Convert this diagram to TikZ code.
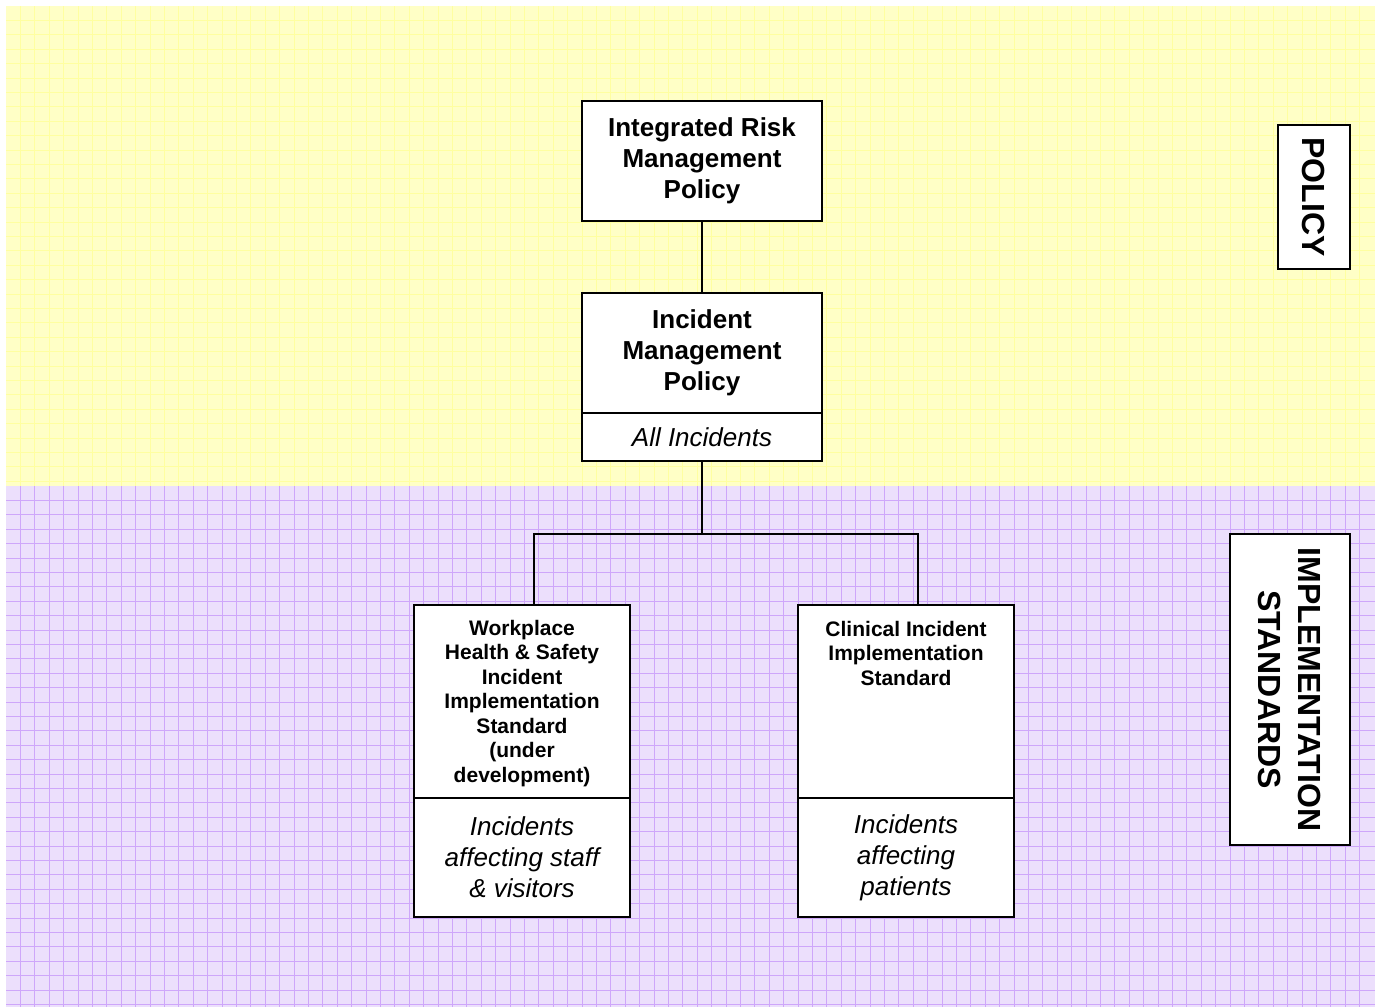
\documentclass[tikz,border=0pt]{standalone}
\usepackage{fontspec}
\setmainfont{Liberation Sans}
\definecolor{ybg}{RGB}{255,255,198}
\definecolor{ygrid}{RGB}{255,255,160}
\definecolor{pbg}{RGB}{236,223,252}
\definecolor{pgrid}{RGB}{206,166,250}
\tikzset{
  boxpart/.style={draw=black, line width=2pt, fill=white, inner sep=0pt, align=center},
  bigbold/.style={font=\fontsize{26}{31}\selectfont\bfseries},
  bigital/.style={font=\fontsize{26}{31}\selectfont\itshape},
  smallbold/.style={font=\fontsize{21}{24.5}\selectfont\bfseries},
  sidebold/.style={font=\fontsize{32}{40}\selectfont\bfseries},
  conn/.style={draw=black, line width=2pt}
}
\begin{document}
\begin{tikzpicture}[x=1pt,y=-1pt]
\useasboundingbox (0,0) rectangle (1382,1007);
\fill[white] (0,0) rectangle (1382,1007);
% backgrounds
\fill[ybg] (6,6) rectangle (1375,486);
\fill[pbg] (6,486) rectangle (1375,1007);
\begin{scope}[line width=0.8pt]
\foreach \i in {1,...,94} {
  \draw[ygrid] (6+\i*14.4,6) -- (6+\i*14.4,486);
  \draw[pgrid] (6+\i*14.4,486) -- (6+\i*14.4,1007);
}
\foreach \j in {1,...,33} {
  \draw[ygrid] (6,6+\j*14.4) -- (1375,6+\j*14.4);
}
\foreach \j in {1,...,36} {
  \draw[pgrid] (6,486+\j*14.4) -- (1375,486+\j*14.4);
}
\end{scope}
% boxes
\node[boxpart, bigbold, minimum width=240pt, minimum height=120pt] (irm) at (702,161)
  {Integrated Risk\\Management\\Policy};
\node[boxpart, bigbold, minimum width=240pt, minimum height=120pt] (imp) at (702,353)
  {Incident\\Management\\Policy};
\node[boxpart, bigital, minimum width=240pt, minimum height=48pt] (all) at (702,437)
  {All Incidents};
\node[boxpart, minimum width=216pt, minimum height=193pt] (whs) at (522,701.5) {};
\node[smallbold, align=center, inner sep=0pt] (whstext) at (522,703.5)
  {Workplace\\Health \& Safety\\Incident\\Implementation\\Standard\\(under\\development)};
\node[boxpart, bigital, minimum width=216pt, minimum height=119pt] (staff) at (522,857.5)
  {Incidents\\affecting staff\\\& visitors};
\node[boxpart, minimum width=216pt, minimum height=193pt] (cis) at (906,701.5) {};
\node[smallbold, align=center, inner sep=0pt, anchor=north] (cistext) at (906,621)
  {Clinical Incident\\Implementation\\Standard};
\node[boxpart, bigital, minimum width=216pt, minimum height=119pt] (pat) at (906,857.5)
  {Incidents\\affecting\\patients};
% side labels
\node[boxpart, sidebold, rotate=-90, minimum width=144pt, minimum height=72pt] (policy) at (1314,197) {POLICY};
\node[boxpart, sidebold, rotate=-90, minimum width=311pt, minimum height=120pt] (stds) at (1290,689.5)
  {IMPLEMENTATION\\STANDARDS};
% connectors
\coordinate (split) at (702,534);
\draw[conn] (irm.south) -- (imp.north);
\draw[conn] (all.south) -- (split);
\draw[conn] (split) -| ([xshift=12pt]whs.north);
\draw[conn] (split) -| ([xshift=12pt]cis.north);
\end{tikzpicture}
\end{document}
